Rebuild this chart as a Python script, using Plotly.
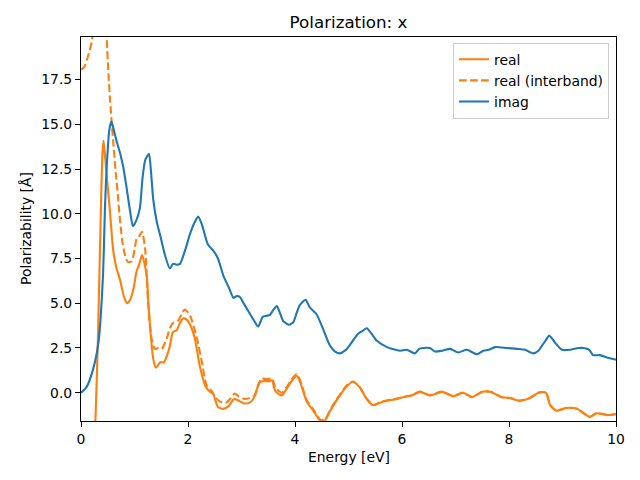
import plotly.graph_objects as go

# Energy grids and values
imag_x = [0, 0.1, 0.17, 0.26, 0.33, 0.41, 0.45, 0.48, 0.53, 0.57, 0.62, 0.68, 0.73, 0.79, 0.85, 0.92, 0.97,
          1.03, 1.1, 1.15, 1.2, 1.27, 1.31, 1.35, 1.42, 1.48, 1.56, 1.66, 1.72, 1.79, 1.85, 1.95,
          2.04, 2.12, 2.19, 2.26, 2.37, 2.47, 2.56, 2.66, 2.76, 2.85, 2.91, 2.97, 3.03, 3.12, 3.22,
          3.31, 3.40, 3.47, 3.53, 3.60, 3.66, 3.72, 3.78, 3.89, 3.97, 4.03, 4.09, 4.15, 4.2, 4.28,
          4.4, 4.52, 4.65, 4.75, 4.84, 4.97, 5.08, 5.18, 5.26, 5.34, 5.43, 5.53, 5.72, 5.96, 6.09,
          6.24, 6.32, 6.39, 6.52, 6.62, 6.75, 6.9, 7.05, 7.21, 7.4, 7.52, 7.62, 7.74, 7.96, 8.15,
          8.3, 8.45, 8.55, 8.61, 8.68, 8.75, 8.8, 8.86, 8.99, 9.14, 9.3, 9.39, 9.5, 9.57, 9.7, 9.85, 10]
imag_y = [0, 0.3, 0.78, 1.7, 2.9, 6.5, 10.5, 12.6, 14.7, 15.15, 14.6, 13.9, 13.4, 12.6, 11.5, 10.1, 9.3,
          9.6, 10.3, 12.0, 13.0, 13.35, 12.3, 10.8, 9.5, 8.8, 7.8, 6.95, 7.2, 7.15, 7.2, 8.0,
          8.9, 9.5, 9.85, 9.4, 8.3, 7.95, 7.5, 6.55, 5.9, 5.3, 5.4, 5.35, 5.05, 4.6, 4.1,
          3.7, 4.25, 4.3, 4.35, 4.65, 4.85, 4.45, 4.0, 3.8, 3.95, 4.45, 4.9, 5.1, 5.2, 4.75,
          4.4, 3.6, 2.65, 2.3, 2.2, 2.45, 2.9, 3.3, 3.45, 3.6, 3.3, 2.9, 2.55, 2.35, 2.4,
          2.2, 2.45, 2.5, 2.5, 2.3, 2.35, 2.45, 2.25, 2.4, 2.15, 2.35, 2.4, 2.55, 2.5, 2.45,
          2.4, 2.2, 2.35, 2.6, 2.9, 3.2, 3.05, 2.8, 2.4, 2.4, 2.5, 2.5, 2.4, 2.1, 2.1, 1.95, 1.85]

real_x = [0.05, 0.15, 0.22, 0.27, 0.32, 0.37, 0.40, 0.42, 0.45, 0.5, 0.55, 0.6, 0.66, 0.73, 0.8, 0.86,
          0.92, 0.98, 1.04, 1.09, 1.14, 1.18, 1.23, 1.26, 1.29, 1.35, 1.40, 1.48, 1.55, 1.61, 1.66,
          1.72, 1.79, 1.85, 1.91, 1.97, 2.04, 2.13, 2.22, 2.32, 2.41, 2.47, 2.56, 2.66, 2.76, 2.84,
          2.87, 2.95, 3.06, 3.15, 3.22, 3.30, 3.35, 3.42, 3.53, 3.57, 3.63, 3.75, 3.84, 3.95, 4.03,
          4.09, 4.22, 4.34, 4.47, 4.56, 4.65, 4.75, 4.84, 4.95, 5.08, 5.21, 5.34, 5.46, 5.64, 5.9,
          6.02, 6.18, 6.34, 6.52, 6.75, 6.96, 7.14, 7.31, 7.5, 7.65, 7.86, 8.02, 8.2, 8.39, 8.55,
          8.69, 8.77, 8.88, 9.08, 9.27, 9.51, 9.64, 9.83, 10]
real_y = [-40, -12, -4.5, -1.55, 3.5, 10, 13.3, 14.1, 13.2, 11.5, 9.8, 8.0, 7.0, 6.3, 5.4, 5.0,
          5.2, 5.8, 6.8, 7.2, 7.7, 7.3, 6.5, 5.0, 3.7, 1.9, 1.4, 1.7, 1.7, 2.1, 2.6,
          3.4, 3.5, 3.9, 4.15, 4.1, 3.8, 3.0, 1.5, 0.4, 0.05, -0.05, -0.8, -0.9, -0.75, -0.4,
          -0.35, -0.45, -0.6, -0.55, -0.35, 0.3, 0.6, 0.65, 0.65, 0.7, 0.1, -0.15, 0.2, 0.7, 0.95,
          0.65, -0.5, -1.0, -1.55, -1.55, -1.05, -0.55, -0.15, 0.3, 0.6, 0.3, -0.35, -0.7, -0.5, -0.35,
          -0.25, -0.15, 0.05, -0.15, 0.05, -0.2, 0.0, -0.25, 0.05, 0.05, -0.25, -0.3, -0.45, -0.3, 0.0,
          0.0, -0.7, -1.0, -0.85, -0.9, -1.35, -1.15, -1.25, -1.2]

inter_x = [0, 0.06, 0.11, 0.16, 0.2, 0.25, 0.35, 0.44, 0.48, 0.51, 0.54, 0.6, 0.65, 0.69, 0.73, 0.78,
           0.84, 0.88, 0.95, 1.0, 1.04, 1.09, 1.14, 1.2, 1.25, 1.32, 1.38, 1.45, 1.51, 1.6, 1.66,
           1.72, 1.81, 1.88, 1.94, 2.04, 2.17, 2.26, 2.35, 2.44, 2.52, 2.6, 2.72, 2.8, 2.87, 2.95,
           3.06, 3.15, 3.25, 3.32, 3.38, 3.47, 3.57, 3.63, 3.75, 3.84, 3.95, 4.03, 4.09, 4.22, 4.34,
           4.47, 4.56, 4.65, 4.75, 4.84, 4.95, 5.08, 5.21, 5.34, 5.46, 5.64, 5.9, 6.02, 6.18, 6.34,
           6.52, 6.75, 6.96, 7.14, 7.31, 7.5, 7.65, 7.86, 8.02, 8.2, 8.39, 8.55, 8.69, 8.77, 8.88,
           9.08, 9.27, 9.51, 9.64, 9.83, 10]
inter_y = [18.05, 18.2, 18.6, 19.1, 19.6, 21, 24, 22, 19.8, 18, 16.5, 14.1, 12.3, 11, 9.6, 8.3,
           7.5, 7.3, 7.35, 8.0, 8.6, 8.75, 9.0, 8.0, 5.2, 3.0, 2.45, 2.5, 2.45, 3.0, 3.6,
           3.9, 4.0, 4.4, 4.65, 4.3, 3.0, 1.7, 0.4, 0.1, -0.3, -0.5, -0.55, -0.3, -0.05, -0.2,
           -0.35, -0.3, -0.15, 0.5, 0.8, 0.75, 0.8, 0.3, 0.0, 0.3, 0.8, 1.05, 0.75, -0.42, -0.93,
           -1.5, -1.5, -1.0, -0.5, -0.1, 0.35, 0.63, 0.32, -0.33, -0.68, -0.48, -0.33, -0.24, -0.14, 0.06,
           -0.14, 0.06, -0.19, 0.01, -0.24, 0.06, 0.06, -0.24, -0.29, -0.44, -0.29, 0.01, 0.01, -0.69, -0.99,
           -0.84, -0.89, -1.34, -1.14, -1.24, -1.19]

x_ticks = [0, 2, 4, 6, 8, 10]
y_ticks = [0.0, 2.5, 5.0, 7.5, 10.0, 12.5, 15.0, 17.5]

ORANGE = "#ff7f0e"
BLUE = "#1f77b4"
FONT = "DejaVu Sans"

# the page body has an 8px margin, so the figure is drawn 8px in from the window edge
W, H = 632, 472
L, R, T, B = 73, 24, 29, 59
plot_h = H - T - B

fig = go.Figure()
fig.add_trace(go.Scatter(x=real_x, y=real_y, mode="lines", name="real",
                         line=dict(color=ORANGE, width=2.1, shape="spline", smoothing=0.6)))
fig.add_trace(go.Scatter(x=inter_x, y=inter_y, mode="lines", name="real (interband)",
                         line=dict(color=ORANGE, width=2.1, dash="7.7px,3.3px",
                                   shape="spline", smoothing=0.6)))
fig.add_trace(go.Scatter(x=imag_x, y=imag_y, mode="lines", name="imag",
                         line=dict(color=BLUE, width=2.1, shape="spline", smoothing=0.6)))

axis_common = dict(showgrid=False, zeroline=False, showline=True, linecolor="black",
                   linewidth=1.1, mirror=True, ticks="outside", ticklen=5, tickwidth=1.1,
                   tickcolor="black", tickfont=dict(family=FONT, size=13.9, color="black"))

fig.update_layout(
    width=W, height=H,
    margin=dict(l=L, r=R, t=T, b=B),
    paper_bgcolor="white", plot_bgcolor="white",
    font=dict(family=FONT, size=13.9, color="black"),
    title=dict(text="Polarization: x", x=0.5, xref="paper", y=1 - 14 / H, yref="container",
               xanchor="center", yanchor="middle", font=dict(family=FONT, size=16.7, color="black")),
    xaxis=dict(range=[0, 10], tickvals=x_ticks, ticktext=[str(t) for t in x_ticks], **axis_common),
    yaxis=dict(range=[-1.58, 19.88], tickvals=y_ticks, ticktext=[f"{t:.1f}" for t in y_ticks],
               **axis_common),
    legend=dict(x=0.987, y=0.985, xanchor="right", yanchor="top",
                bgcolor="rgba(255,255,255,0.8)", bordercolor="#cccccc", borderwidth=1,
                font=dict(family=FONT, size=13.9, color="black"), tracegroupgap=0),
    showlegend=True,
)

fig.add_annotation(text="Energy [eV]", x=0.5, xref="paper", y=-(449 - (T + plot_h)) / plot_h,
                   yref="paper", showarrow=False, font=dict(family=FONT, size=13.9, color="black"),
                   xanchor="center", yanchor="middle")
fig.add_annotation(text="Polarizability [Å]", xref="paper", yref="paper", x=0, y=0.5,
                   xshift=-55, showarrow=False, textangle=-90,
                   font=dict(family=FONT, size=13.9, color="black"),
                   xanchor="center", yanchor="middle")

fig.write_html("out.html")
